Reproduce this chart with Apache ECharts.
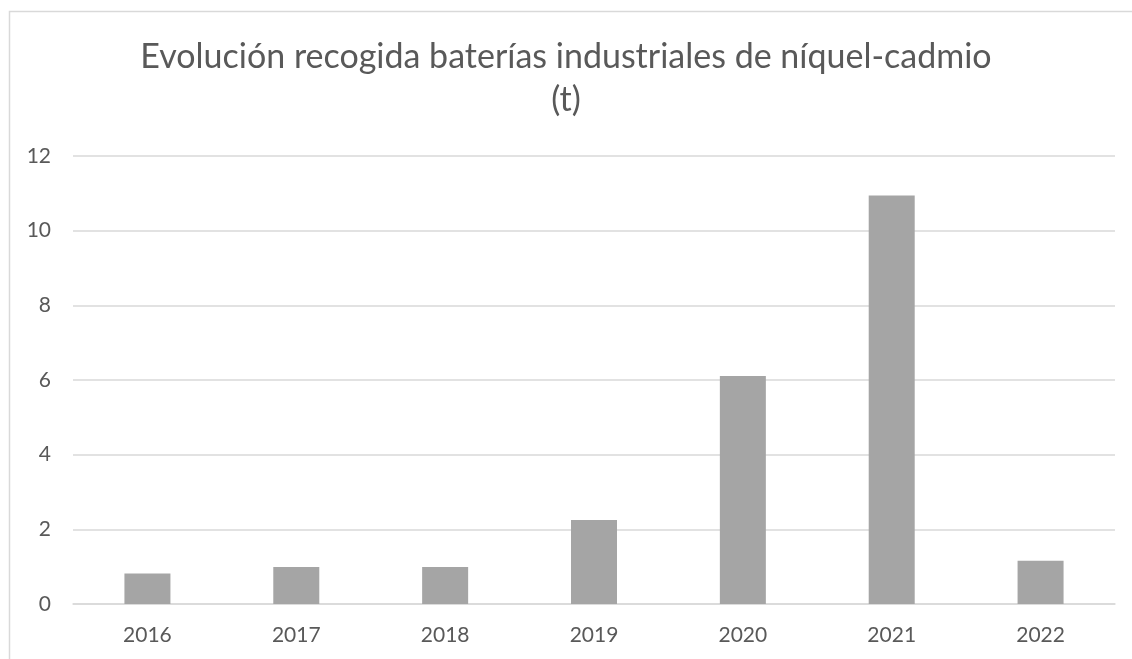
<!DOCTYPE html>
<html>
<head>
<meta charset="utf-8">
<script src="https://cdn.jsdelivr.net/npm/echarts@6/dist/echarts.min.js"></script>
<style>
html,body{margin:0;padding:0;background:#fff;}
#c{width:1132px;height:659px;}
</style>
</head>
<body>
<div id="c"></div>
<script>
const categories = ['2016','2017','2018','2019','2020','2021','2022'];
const values = [0.82, 0.99, 0.99, 2.25, 6.11, 10.94, 1.16];
const titleText = 'Evolución recogida baterías industriales de níquel-cadmio\n(t)';

const chart = echarts.init(document.getElementById('c'));
chart.setOption({
  animation: false,
  backgroundColor: '#fff',
  graphic: [{
    type: 'rect',
    shape: {x: 9.5, y: 11.5, width: 1200, height: 700},
    style: {fill: 'none', stroke: '#d9d9d9', lineWidth: 1.5},
    silent: true
  }],
  title: {
    text: titleText,
    left: 'center',
    top: 31,
    textStyle: {
      fontFamily: 'Lato, "Liberation Sans", sans-serif',
      fontWeight: 'normal',
      fontSize: 34,
      color: '#595959',
      lineHeight: 43
    }
  },
  grid: {left: 73, right: 17, top: 156, bottom: 55},
  xAxis: {
    type: 'category',
    data: categories,
    axisLine: {lineStyle: {color: '#d9d9d9', width: 1.5}},
    axisTick: {show: false},
    axisLabel: {color: '#595959', fontSize: 21, fontFamily: 'Lato, sans-serif', margin: 21}
  },
  yAxis: {
    type: 'value',
    min: 0, max: 12, interval: 2,
    axisLine: {show: false},
    axisTick: {show: false},
    splitLine: {lineStyle: {color: '#d9d9d9', width: 1.5}},
    axisLabel: {color: '#595959', fontSize: 21, fontFamily: 'Lato, sans-serif', margin: 22}
  },
  series: [{
    type: 'bar',
    data: values,
    barWidth: 46,
    itemStyle: {color: '#a5a5a5'}
  }]
});
</script>
</body>
</html>
